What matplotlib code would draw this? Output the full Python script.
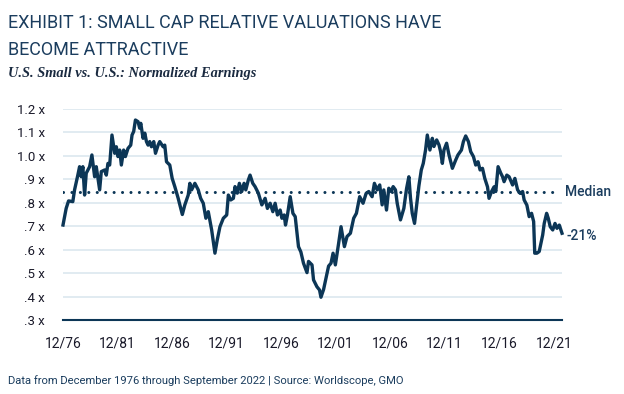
import matplotlib.pyplot as plt

# Small vs. U.S. normalized earnings (fractional years)
dates = [1976.92, 1977.21, 1977.43, 1977.82, 1977.98, 1978.28, 1978.44, 1978.59, 1978.74, 1978.90,
         1979.05, 1979.36, 1979.57, 1979.82, 1979.97, 1980.28, 1980.43, 1980.74, 1980.89, 1981.04,
         1981.20, 1981.41, 1981.66, 1981.81, 1981.96, 1982.12, 1982.27, 1982.48, 1982.64, 1982.88,
         1983.13, 1983.25, 1983.40, 1983.56, 1983.80, 1983.95, 1984.05, 1984.26, 1984.42, 1984.57,
         1984.72, 1984.87, 1985.03, 1985.24, 1985.40, 1985.64, 1985.79, 1986.10, 1986.25, 1986.41,
         1986.71, 1986.93, 1987.17, 1987.48, 1987.86, 1988.09, 1988.25, 1988.40, 1988.55, 1988.71,
         1989.01, 1989.32, 1989.54, 1989.78, 1990.02, 1990.24, 1990.55, 1990.85, 1991.06, 1991.31,
         1991.62, 1991.93, 1992.08, 1992.30, 1992.54, 1992.69, 1992.90, 1993.09, 1993.31, 1993.52,
         1993.68, 1993.91, 1994.07, 1994.32, 1994.53, 1994.83, 1995.15, 1995.45, 1995.66, 1995.91,
         1996.16, 1996.37, 1996.58, 1996.83, 1996.99, 1997.20, 1997.32, 1997.50, 1997.75, 1998.00,
         1998.21, 1998.51, 1998.73, 1998.97, 1999.29, 1999.43, 1999.75, 1999.89, 2000.20, 2000.44,
         2000.57, 2000.81, 2001.06, 2001.27, 2001.49, 2001.68, 2001.89, 2002.19, 2002.41, 2002.72,
         2002.96, 2003.27, 2003.57, 2003.82, 2004.12, 2004.43, 2004.71, 2004.95, 2005.26, 2005.47,
         2005.72, 2005.96, 2006.18, 2006.33, 2006.58, 2006.79, 2007.01, 2007.19, 2007.40, 2007.56,
         2007.86, 2008.17, 2008.42, 2008.63, 2008.78, 2008.94, 2009.15, 2009.40, 2009.55, 2009.77,
         2009.95, 2010.16, 2010.32, 2010.56, 2010.78, 2010.93, 2011.18, 2011.39, 2011.54, 2011.70,
         2011.85, 2012.09, 2012.31, 2012.62, 2012.92, 2013.13, 2013.45, 2013.63, 2013.84, 2014.09,
         2014.30, 2014.55, 2014.76, 2014.97, 2015.16, 2015.38, 2015.59, 2015.84, 2015.98, 2016.21,
         2016.44, 2016.60, 2016.81, 2017.06, 2017.22, 2017.36, 2017.61, 2017.82, 2018.14, 2018.35,
         2018.60, 2018.84, 2019.06, 2019.20, 2019.45, 2019.66, 2019.88, 2020.07, 2020.17, 2020.37,
         2020.58, 2020.74, 2020.90, 2021.04, 2021.26, 2021.41, 2021.59, 2021.82, 2022.03, 2022.21,
         2022.42, 2022.67]
values = [0.705, 0.776, 0.808, 0.805, 0.855, 0.918, 0.954, 0.911, 0.954, 0.833,
          0.926, 0.954, 1.004, 0.911, 0.954, 0.855, 0.933, 0.940, 0.918, 0.968,
          0.961, 1.089, 1.011, 1.039, 0.997, 1.025, 0.961, 1.025, 0.997, 1.032,
          1.046, 1.089, 1.104, 1.153, 1.146, 1.118, 1.139, 1.075, 1.097, 1.061,
          1.046, 1.061, 1.039, 1.061, 1.011, 1.046, 1.061, 1.039, 1.046, 0.975,
          0.961, 0.904, 0.869, 0.819, 0.750, 0.791, 0.812, 0.833, 0.883, 0.855,
          0.883, 0.855, 0.819, 0.798, 0.734, 0.762, 0.684, 0.585, 0.641, 0.698,
          0.734, 0.748, 0.833, 0.812, 0.819, 0.869, 0.841, 0.883, 0.848, 0.883,
          0.855, 0.897, 0.918, 0.883, 0.869, 0.841, 0.791, 0.819, 0.776, 0.798,
          0.762, 0.798, 0.748, 0.769, 0.734, 0.748, 0.705, 0.748, 0.826, 0.755,
          0.741, 0.613, 0.590, 0.542, 0.502, 0.550, 0.535, 0.471, 0.442, 0.428,
          0.397, 0.430, 0.485, 0.530, 0.542, 0.585, 0.535, 0.627, 0.698, 0.613,
          0.656, 0.670, 0.734, 0.755, 0.826, 0.798, 0.840, 0.848, 0.826, 0.883,
          0.855, 0.876, 0.791, 0.855, 0.769, 0.862, 0.848, 0.869, 0.855, 0.798,
          0.727, 0.776, 0.861, 0.911, 0.820, 0.755, 0.712, 0.812, 0.872, 0.940,
          0.968, 1.025, 1.089, 1.025, 1.075, 1.040, 1.068, 1.047, 1.018, 0.968,
          1.025, 1.054, 1.004, 0.947, 0.982, 1.004, 1.025, 1.061, 1.085, 1.061,
          1.018, 0.997, 0.961, 0.975, 0.940, 0.947, 0.904, 0.868, 0.819, 0.848,
          0.868, 0.848, 0.954, 0.926, 0.911, 0.890, 0.918, 0.911, 0.876, 0.904,
          0.855, 0.840, 0.848, 0.812, 0.790, 0.741, 0.755, 0.720, 0.585, 0.585,
          0.592, 0.627, 0.663, 0.712, 0.755, 0.734, 0.698, 0.684, 0.712, 0.691,
          0.705, 0.670]

median = 0.845
median_end = 2021.9
x_ticks = [1976.92, 1981.92, 1986.92, 1991.92, 1996.92, 2001.92, 2006.92, 2011.92, 2016.92, 2021.92]
x_labels = ["12/76", "12/81", "12/86", "12/91", "12/96", "12/01", "12/06", "12/11", "12/16", "12/21"]
y_ticks = [0.3, 0.4, 0.5, 0.6, 0.7, 0.8, 0.9, 1.0, 1.1, 1.2]
y_labels = [".3 x", ".4 x", ".5 x", ".6 x", ".7 x", ".8 x", ".9 x", "1.0 x", "1.1 x", "1.2 x"]

navy = "#0c3656"
text_navy = "#1b3d5e"
grid_col = "#dbe7ef"

fig = plt.figure(figsize=(6.24, 3.94), dpi=100)
ax = fig.add_axes([63 / 624, 1 - 320 / 394, (562 - 63) / 624, (320 - 109) / 394])

# grid
for y in y_ticks[1:]:
    ax.axhline(y, color=grid_col, linewidth=1.2, zorder=1)

# median dotted line
ax.plot([dates[0], median_end], [median, median], color=navy, linewidth=2.2,
        linestyle=(0, (0.01, 2.75)), dash_capstyle="round", zorder=2)

# series
ax.plot(dates, values, color=navy, linewidth=2.4, solid_joinstyle="round", zorder=3, clip_on=False)

ax.set_xlim(dates[0], dates[-1])
ax.set_ylim(0.3, 1.2)
ax.set_xticks(x_ticks)
ax.set_xticklabels(x_labels, family="Roboto", fontsize=10, color="#1a1a2a")
ax.set_yticks(y_ticks)
ax.set_yticklabels(y_labels, family="Roboto", fontsize=9.5, color="#1a1a2a")
ax.tick_params(axis="both", length=0)
ax.tick_params(axis="y", pad=13)
ax.tick_params(axis="x", pad=12)
for side in ["top", "right", "left"]:
    ax.spines[side].set_visible(False)
ax.spines["bottom"].set_color(navy)
ax.spines["bottom"].set_linewidth(1.5)

# right-hand labels
ax.annotate("Median", xy=(dates[-1], median), xytext=(2, 0), textcoords="offset points",
            va="center", ha="left", family="Roboto", fontweight="medium", fontsize=10,
            color=text_navy, annotation_clip=False)
ax.annotate("-21%", xy=(dates[-1], values[-1]), xytext=(3, -2), textcoords="offset points",
            va="center", ha="left", family="Roboto", fontweight="medium", fontsize=10,
            color=text_navy, annotation_clip=False)

# titles and footer
fig.text(8 / 624, 1 - 28 / 394, "EXHIBIT 1: SMALL CAP RELATIVE VALUATIONS HAVE", family="Roboto",
         fontsize=13.0, color=text_navy, va="baseline")
fig.text(8 / 624, 1 - 55 / 394, "BECOME ATTRACTIVE", family="Roboto",
         fontsize=13.0, color=text_navy, va="baseline")
fig.text(8 / 624, 1 - 77 / 394, "U.S. Small vs. U.S.: Normalized Earnings", family="Liberation Serif",
         fontweight="bold", style="italic", fontsize=10.4, color="#1a2a40", va="baseline")
fig.text(8 / 624, 1 - 384 / 394, "Data from December 1976 through September 2022 | Source: Worldscope, GMO",
         family="Roboto", fontsize=8.1, color=text_navy, va="baseline")

plt.savefig("out.png", dpi=100)
